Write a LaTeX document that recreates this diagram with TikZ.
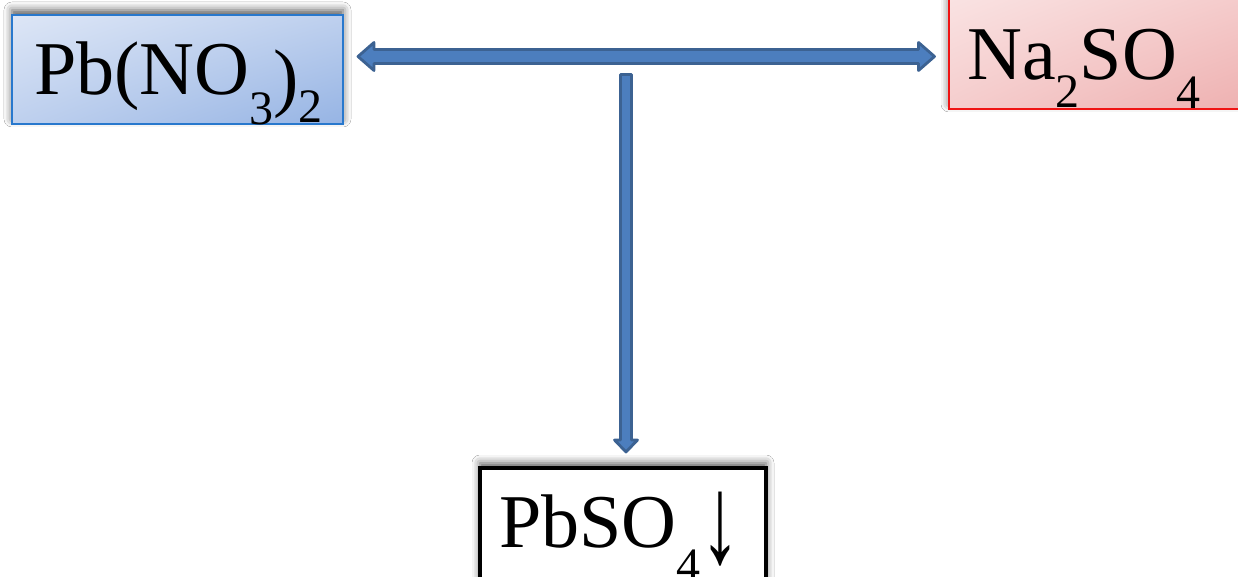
\documentclass[tikz,border=0pt]{standalone}
\usepackage{fontspec}
\setmainfont{Liberation Serif}
\usetikzlibrary{calc,shadings,shadows.blur}

\definecolor{pbedge}{RGB}{40,120,205}
\definecolor{pblight}{RGB}{221,230,246}
\definecolor{pbmid}{RGB}{190,208,238}
\definecolor{pbdark}{RGB}{150,180,228}
\definecolor{naedge}{RGB}{240,20,20}
\definecolor{nalight}{RGB}{250,228,228}
\definecolor{namid}{RGB}{245,205,205}
\definecolor{nadark}{RGB}{238,176,176}
\definecolor{arrowdark}{RGB}{60,98,146}
\definecolor{arrowfill}{RGB}{76,126,190}

% subscripts: lowered, smaller digits
\newcommand\chemsub[2][28pt]{\raisebox{-#1}{\fontsize{48}{48}\selectfont #2}}
% tall precipitate arrow
\newcommand\precip{\raisebox{-15pt}{\scalebox{1.05}[1.65]{\bfseries ↓}}}

\tikzset{
  boxshadow/.style={blur shadow={shadow xshift=0pt, shadow yshift=5pt,
      shadow blur radius=8pt, shadow opacity=65}},
  chembox/.style={rectangle, inner sep=0pt, boxshadow},
  formula/.style={inner sep=0pt, anchor=base west,
      font=\fontsize{76}{80}\selectfont},
  blockarrow/.style={fill=arrowfill, draw=arrowdark, line width=2.8pt,
      line join=round},
}

\begin{document}
\begin{tikzpicture}[x=1pt, y=-1pt]
  \useasboundingbox (0,0) rectangle (1238,577);
  \fill[white] (0,0) rectangle (1238,577);

  % reactant and product boxes
  \node[chembox, draw=pbedge, line width=2pt,
        shading=bilinear interpolation,
        upper left=pblight, upper right=pbmid, lower left=pbmid, lower right=pbdark,
        minimum width=331pt, minimum height=109pt] (pb) at (177.5,69.5) {};
  \node[chembox, draw=naedge, line width=2pt,
        shading=bilinear interpolation,
        upper left=nalight, upper right=namid, lower left=namid, lower right=nadark,
        minimum width=301pt, minimum height=119pt] (na) at (1099.5,49.5) {};
  \node[chembox, draw=black, fill=white, line width=4pt,
        minimum width=286pt, minimum height=132pt] (pbso) at (623,534) {};

  % formulas
  \node[formula] (pbtext) at (34,95)
    {Pb(NO\chemsub[30pt]{3}\raisebox{-8pt}{)}\chemsub[28pt]{2}};
  \node[formula] (natext) at (967,80)
    {Na\chemsub[28pt]{2}SO\chemsub[29pt]{4}};
  \node[formula] (pbsotext) at (499,547)
    {PbSO\chemsub[34pt]{4}\precip};

  % connector end points
  \coordinate (hl) at ($(pb.east)+(14,-13)$);
  \coordinate (hr) at ($(hl -| na.west)+(-13.5,0)$);
  \coordinate (vtop) at (626,74.5);
  \coordinate (vtip) at ($(vtop |- pbso.north)+(0,-14)$);

  % double-headed arrow between the reactants
  \draw[blockarrow]
    (hl) -- ($(hl)+(16,-14)$) -- ($(hl)+(16,-7)$)
    -- ($(hr)+(-16,-7)$) -- ($(hr)+(-16,-14)$) -- (hr)
    -- ($(hr)+(-16,14)$) -- ($(hr)+(-16,7)$)
    -- ($(hl)+(16,7)$) -- ($(hl)+(16,14)$) -- cycle;

  % arrow down to the precipitate
  \draw[blockarrow]
    ($(vtop)+(-5.5,0)$) -- ($(vtip)+(-5.5,-12)$) -- ($(vtip)+(-11.5,-12)$)
    -- (vtip) -- ($(vtip)+(11.5,-12)$) -- ($(vtip)+(5.5,-12)$)
    -- ($(vtop)+(5.5,0)$) -- cycle;
\end{tikzpicture}
\end{document}
